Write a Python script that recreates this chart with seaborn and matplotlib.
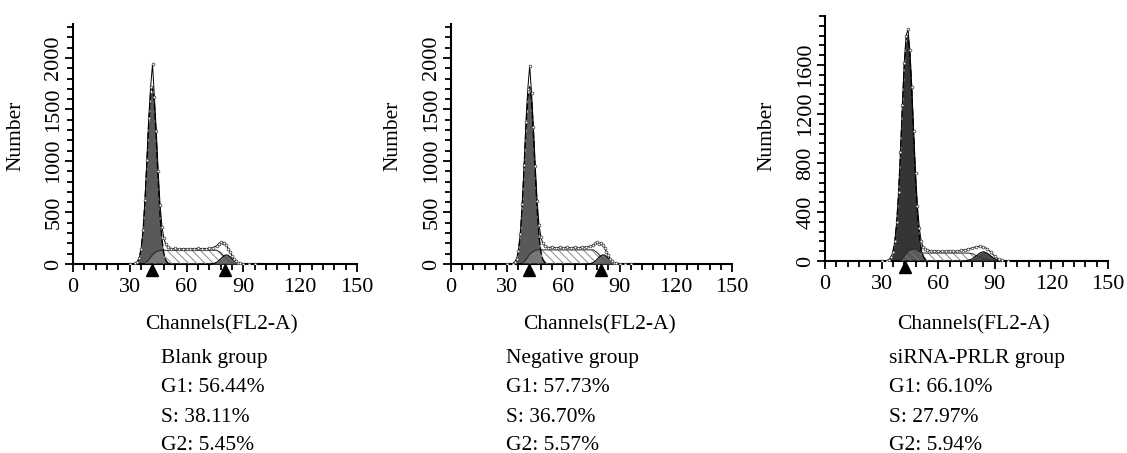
import matplotlib
matplotlib.use("Agg")
import matplotlib.pyplot as plt
import seaborn as sns

sns.set_style("ticks")
plt.rcParams['font.family'] = ['Liberation Serif', 'DejaVu Serif']
plt.rcParams['text.color'] = 'black'
plt.rcParams['axes.labelcolor'] = 'black'
plt.rcParams['xtick.color'] = 'black'
plt.rcParams['ytick.color'] = 'black'
plt.rcParams['hatch.linewidth'] = 0.6
plt.rcParams['hatch.color'] = '#777777'

# ---- data (channel, count) ----
groups = ["Blank group", "Negative group", "siRNA-PRLR group"]
g1_pct = ["56.44%", "57.73%", "66.10%"]
s_pct = ["38.11%", "36.70%", "27.97%"]
g2_pct = ["5.45%", "5.57%", "5.94%"]

# G1 fitted peak
blank_g1_x = [33, 34, 35, 36, 37, 38, 39, 40, 41, 42, 43, 44, 45, 46, 47, 48, 49, 50, 51]
blank_g1_y = [5, 19, 56, 143, 313, 591, 963, 1353, 1641, 1715, 1546, 1203, 807, 466, 233, 100, 37, 12, 0]
neg_g1_x = [33, 34, 35, 36, 37, 38, 39, 40, 41, 42, 43, 44, 45, 46, 47, 48, 49, 50, 51]
neg_g1_y = [4, 15, 45, 120, 275, 540, 905, 1300, 1610, 1720, 1590, 1260, 870, 520, 265, 118, 45, 15, 0]
si_g1_x = [33, 34, 35, 36, 37, 38, 39, 40, 41, 42, 43, 44, 45, 46, 47, 48, 49, 50, 51, 52, 53, 54, 55]
si_g1_y = [3, 10, 28, 69, 153, 304, 542, 865, 1234, 1576, 1800, 1841, 1684, 1379, 1010, 662, 388,
           204, 96, 40, 15, 5, 0]

# S phase
blank_s_x = [38, 40, 42, 44, 46, 76, 78, 80, 82, 84, 86]
blank_s_y = [0, 40, 90, 120, 133, 133, 110, 70, 35, 10, 0]
neg_s_x = [38, 40, 42, 44, 46, 76, 78, 80, 82, 84, 86]
neg_s_y = [0, 42, 95, 125, 137, 137, 112, 72, 36, 10, 0]
si_s_x = [40, 42, 44, 46, 48, 50, 52, 76, 78, 80, 84, 88, 90]
si_s_y = [0, 40, 80, 95, 100, 75, 65, 65, 60, 45, 20, 5, 0]

# G2 fitted peak
blank_g2_x = [73, 74, 75, 76, 77, 78, 79, 80, 81, 82, 83, 84, 85, 86, 87, 88, 89, 90]
blank_g2_y = [1, 4, 9, 18, 32, 50, 68, 83, 88, 83, 68, 50, 32, 18, 9, 4, 1, 0]
neg_g2_x = [73, 74, 75, 76, 77, 78, 79, 80, 81, 82, 83, 84, 85, 86, 87, 88, 89, 90]
neg_g2_y = [1, 3, 7, 15, 28, 46, 65, 80, 89, 86, 73, 55, 37, 21, 11, 5, 2, 0]
si_g2_x = [75, 76, 78, 80, 82, 84, 86, 88, 90, 92, 94, 95]
si_g2_y = [0, 6, 17, 40, 64, 76, 64, 40, 17, 6, 1, 0]

# measured histogram
blank_raw_x = [30, 33, 34, 35, 36, 37, 38, 39, 40, 41, 42, 43, 44, 45, 46, 47, 48, 49, 50, 52,
               54, 56, 58, 60, 62, 64, 66, 68, 70, 72, 74, 76, 77, 78, 79, 80, 81, 82, 83,
               84, 85, 86, 87, 88, 90, 93, 96]
blank_raw_y = [0, 5, 20, 60, 150, 330, 620, 1010, 1420, 1720, 1940, 1620, 1290, 900, 570, 360,
               250, 190, 165, 150, 152, 145, 150, 147, 150, 146, 152, 148, 150, 152, 160, 178,
               196, 212, 200, 205, 180, 150, 115, 80, 50, 25, 10, 5, 3, 1, 0]
neg_raw_x = [30, 33, 34, 35, 36, 37, 38, 39, 40, 41, 42, 43, 44, 45, 46, 47, 48, 49, 50, 52,
             54, 56, 58, 60, 62, 64, 66, 68, 70, 72, 74, 76, 77, 78, 79, 80, 81, 82, 83,
             84, 85, 86, 87, 88, 90, 93, 96]
neg_raw_y = [0, 4, 17, 50, 130, 295, 580, 960, 1380, 1700, 1925, 1660, 1330, 950, 610, 380,
             260, 200, 175, 160, 166, 158, 163, 160, 162, 158, 164, 160, 162, 165, 170, 185,
             200, 210, 198, 207, 185, 155, 120, 85, 52, 27, 11, 5, 3, 1, 0]
si_raw_x = [30, 33, 34, 35, 36, 37, 38, 39, 40, 41, 42, 43, 44, 45, 46, 47, 48, 49, 50, 51,
            52, 53, 54, 56, 58, 60, 62, 64, 66, 68, 70, 72, 74, 76, 78, 80, 82, 84, 86, 88,
            90, 92, 94, 97]
si_raw_y = [0, 3, 12, 32, 75, 160, 315, 560, 890, 1270, 1620, 1840, 1890, 1720, 1420, 1060,
            720, 450, 270, 160, 115, 95, 90, 82, 85, 80, 78, 82, 84, 78, 82, 86, 92, 98, 108,
            115, 120, 116, 100, 70, 40, 15, 5, 0]

# peak markers
blank_marks = [41.8, 80.2]
neg_marks = [41.9, 79.9]
si_marks = [42.5]

panels = [
    dict(g1=(blank_g1_x, blank_g1_y), s=(blank_s_x, blank_s_y), g2=(blank_g2_x, blank_g2_y),
         raw=(blank_raw_x, blank_raw_y), marks=blank_marks, dark='#595959',
         ylim=2330, minor=100, ticks=[0, 500, 1000, 1500, 2000]),
    dict(g1=(neg_g1_x, neg_g1_y), s=(neg_s_x, neg_s_y), g2=(neg_g2_x, neg_g2_y),
         raw=(neg_raw_x, neg_raw_y), marks=neg_marks, dark='#595959',
         ylim=2330, minor=100, ticks=[0, 500, 1000, 1500, 2000]),
    dict(g1=(si_g1_x, si_g1_y), s=(si_s_x, si_s_y), g2=(si_g2_x, si_g2_y),
         raw=(si_raw_x, si_raw_y), marks=si_marks, dark='#353535',
         ylim=2000, minor=80, ticks=[0, 400, 800, 1200, 1600]),
]

W, H = 1127, 453
fig = plt.figure(figsize=(W / 100, H / 100), dpi=100)

# axes boxes in pixels: left, right, bottom(y of x-axis), top
boxes = [(73, 357, 264, 24), (451, 732, 264, 24), (825, 1108, 261, 16)]
text_left = [161, 506, 889]
xlab_center = [221, 599, 974]
ylab_x = [16, 393, 767]

for i, p in enumerate(panels):
    l, r, b, t = boxes[i]
    ax = fig.add_axes([l / W, 1 - b / H, (r - l) / W, (b - t) / H])

    sx, sy = p['s']
    gx, gy = p['g1']
    hx, hy = p['g2']

    # G1 fill, S phase hatched on top, then G2
    ax.fill_between(gx, 0, gy, color=p['dark'], lw=0, zorder=2)
    ax.fill_between(sx, 0, sy, facecolor=(1, 1, 1, 0.18), edgecolor='#777777',
                    hatch='\\\\\\\\', lw=0, zorder=3)
    sns.lineplot(x=sx, y=sy, ax=ax, color='#222222', lw=0.7, zorder=4, sort=False)
    ax.fill_between(hx, 0, hy, color=p['dark'], alpha=0.9, lw=0, zorder=5)
    sns.lineplot(x=hx, y=hy, ax=ax, color='black', lw=0.8, zorder=6, sort=False)
    sns.lineplot(x=gx, y=gy, ax=ax, color='black', lw=1.0, ls=(0, (5, 2)), zorder=6, sort=False)

    # measured histogram
    rx, ry = p['raw']
    sns.lineplot(x=rx, y=ry, ax=ax, color='black', lw=0.7, marker='o', markersize=2,
                 markerfacecolor='white', markeredgecolor='#333333', markeredgewidth=0.5,
                 zorder=7, sort=False)

    # peak triangles under the axis
    ax.plot(p['marks'], [-0.026] * len(p['marks']), marker='^', color='black', ls='none',
            markersize=8, transform=ax.get_xaxis_transform(), clip_on=False, zorder=10)

    ax.set_xlim(0, 150)
    ax.set_ylim(0, p['ylim'])
    ax.set_xticks([0, 30, 60, 90, 120, 150])
    ax.set_xticks(range(0, 151, 6), minor=True)
    ax.set_yticks(p['ticks'])
    ax.set_yticks(range(0, p['ylim'] + 1, p['minor']), minor=True)
    for lab in ax.get_yticklabels():
        lab.set_rotation(90)
        lab.set_va('center')
    ax.tick_params(axis='both', which='major', length=6, width=1.3, labelsize=16,
                   colors='black', direction='out')
    ax.tick_params(axis='both', which='minor', length=4, width=1.3, direction='out')
    ax.tick_params(axis='x', which='major', pad=4)
    ax.tick_params(axis='y', which='major', pad=1)
    sns.despine(ax=ax)
    for sp in ['left', 'bottom']:
        ax.spines[sp].set_linewidth(1.5)
        ax.spines[sp].set_color('black')

    ax.set_ylabel("Number", fontsize=15.5)
    ax.yaxis.set_label_coords((ylab_x[i] - l) / (r - l), (b - 136) / (b - t))
    ax.yaxis.label.set_va('center')
    ax.set_xlabel("Channels(FL2-A)", fontsize=15.5)
    ax.xaxis.set_label_coords((xlab_center[i] - l) / (r - l), -(325 - b) / (b - t))
    ax.xaxis.label.set_va('center')

    lines = [groups[i], "G1: " + g1_pct[i], "S: " + s_pct[i], "G2: " + g2_pct[i]]
    for k, (txt, py) in enumerate(zip(lines, [358, 388, 417, 445])):
        fig.text(text_left[i] / W, 1 - py / H, txt, fontsize=15.5, ha='left', va='center')

fig.savefig("out.png", dpi=100, facecolor='white')
